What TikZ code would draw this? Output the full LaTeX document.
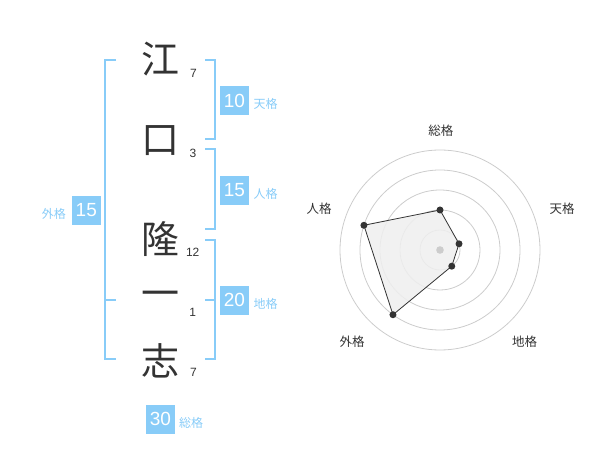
\documentclass[tikz,border=0pt]{standalone}
\usepackage{fontspec}
\setmainfont{Liberation Sans}
\newfontfamily\cjk{Noto Sans CJK JP}
\definecolor{kblue}{HTML}{88CCF8}
\definecolor{ktext}{HTML}{333333}
\definecolor{kring}{HTML}{CCCCCC}
\definecolor{kfill}{HTML}{EFEFEF}
\begin{document}
\begin{tikzpicture}[x=1pt,y=-1pt,
  kanji/.style={font=\cjk\fontsize{38}{38}\selectfont, text=ktext, inner sep=0pt},
  stroke/.style={font=\fontsize{12}{12}\selectfont, text=ktext, inner sep=0pt},
  valbox/.style={fill=kblue, text=white, minimum width=29pt, minimum height=29pt, inner sep=0pt, font=\fontsize{19}{19}\selectfont},
  vallabel/.style={text=kblue, font=\cjk\fontsize{12}{12}\selectfont, inner sep=0pt},
  brk/.style={draw=kblue, line width=2pt},
  ring/.style={draw=kring, line width=0.8pt},
  axlabel/.style={text=ktext, font=\cjk\fontsize{12.5}{12.5}\selectfont, inner sep=0pt},
  pt/.style={circle, fill=ktext, minimum size=7pt, inner sep=0pt}]
\useasboundingbox (0,0) rectangle (600,470);
% kanji
\node[kanji] (k1) at (160,59.5) {江};
\node[kanji] (k2) at (160,141) {口};
\node[kanji] (k3) at (160,239.5) {隆};
\node[kanji] (k4) at (160,299) {一};
\node[kanji] (k5) at (160,361) {志};
% strokes
\node[stroke] (s1) at (193.5,73) {7};
\node[stroke] (s2) at (193,153) {3};
\node[stroke] (s3) at (192.7,252) {12};
\node[stroke] (s4) at (192.7,312.5) {1};
\node[stroke] (s5) at (193.5,372) {7};
% brackets
\draw[brk] (116,60) -- (105,60) -- (105,359) -- (116,359);
\draw[brk] (105,300) -- (116,300);
\draw[brk] (205,60) -- (215,60) -- (215,139.3) -- (205,139.3);
\draw[brk] (205,149.3) -- (215,149.3) -- (215,229.3) -- (205,229.3);
\draw[brk] (205,240) -- (215,240) -- (215,359) -- (205,359);
\draw[brk] (205,300) -- (215,300);
% value boxes
\node[valbox] (ten) at (234.5,100.5) {10};
\node[vallabel, anchor=west] (tenl) at (253.5,104) {天格};
\node[valbox] (jin) at (234.5,190.3) {15};
\node[vallabel, anchor=west] (jinl) at (253.5,194) {人格};
\node[valbox] (chi) at (234.5,300.3) {20};
\node[vallabel, anchor=west] (chil) at (253.5,304) {地格};
\node[valbox] (gai) at (86.3,210.3) {15};
\node[vallabel, anchor=east] (gail) at (66,214) {外格};
\node[valbox] (sou) at (160.5,419) {30};
\node[vallabel, anchor=west] (soul) at (179,423) {総格};
% radar
\coordinate (c) at (440,250);
\foreach \r in {20,40,60,80,100} \draw[ring] (c) circle[radius=\r];
\coordinate (r1) at (440,210);
\coordinate (r2) at (459.02,243.82);
\coordinate (r3) at (451.76,266.18);
\coordinate (r4) at (392.98,314.72);
\coordinate (r5) at (363.91,225.28);
\draw[fill=kfill, fill opacity=0.85, draw=ktext, line width=0.8pt] (r1) -- (r2) -- (r3) -- (r4) -- (r5) -- cycle;
\fill[kring] (c) circle[radius=3.8];
\foreach \p in {r1,r2,r3,r4,r5} \node[pt] at (\p) {};
\node[axlabel] (a1) at (440.8,130.5) {総格};
\node[axlabel] (a2) at (562,208.5) {天格};
\node[axlabel] (a3) at (524.7,342) {地格};
\node[axlabel] (a4) at (352,342) {外格};
\node[axlabel] (a5) at (319,208.5) {人格};
\end{tikzpicture}
\end{document}
